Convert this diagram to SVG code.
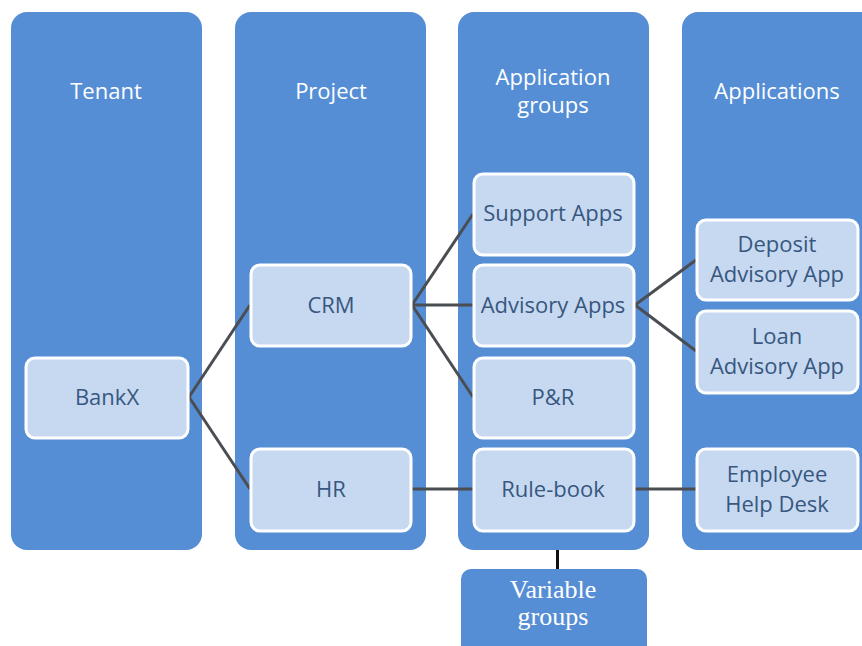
<svg xmlns="http://www.w3.org/2000/svg" width="862" height="646" viewBox="0 0 862 646">
<style>
.col{fill:#558ed5;}
.node{fill:#c6d9f1;stroke:#ffffff;stroke-width:3;}
.hdr{font-family:"Open Sans","Liberation Sans",sans-serif;font-size:22px;fill:#ffffff;text-anchor:middle;}
.lbl{font-family:"Open Sans","Liberation Sans",sans-serif;font-size:22px;fill:#38577f;text-anchor:middle;}
.ser{font-family:"Liberation Serif",serif;font-size:26px;fill:#ffffff;text-anchor:middle;}
.conn{stroke:#4a4d52;stroke-width:3;fill:none;}
</style>
<rect width="862" height="646" fill="#ffffff"/>
<g id="col-tenant"><rect class="col" x="11" y="12" width="191" height="538" rx="16"/><text class="hdr" x="106" y="99">Tenant</text></g>
<g id="col-project"><rect class="col" x="235" y="12" width="191" height="538" rx="16"/><text class="hdr" x="331" y="99">Project</text></g>
<g id="col-appgroups"><rect class="col" x="458" y="12" width="191" height="538" rx="16"/><text class="hdr" x="553" y="85">Application</text><text class="hdr" x="553" y="113">groups</text></g>
<g id="col-apps"><rect class="col" x="682" y="12" width="196" height="538" rx="16"/><text class="hdr" x="777" y="99">Applications</text></g>
<g id="connectors">
<line class="conn" x1="189" y1="397" x2="250" y2="305"/>
<line class="conn" x1="189" y1="397" x2="250" y2="489"/>
<line class="conn" x1="412" y1="305" x2="473" y2="214"/>
<line class="conn" x1="412" y1="305" x2="473" y2="305"/>
<line class="conn" x1="412" y1="305" x2="473" y2="397"/>
<line class="conn" x1="635" y1="305" x2="696" y2="260"/>
<line class="conn" x1="635" y1="305" x2="696" y2="351"/>
<line class="conn" x1="412" y1="489" x2="473" y2="489"/>
<line class="conn" x1="635" y1="489" x2="696" y2="489"/>
<line x1="557.5" y1="550" x2="557.5" y2="569" stroke="#111111" stroke-width="3"/>
</g>
<g id="bankx"><rect class="node" x="26" y="358" width="162" height="80" rx="9"/><text class="lbl" x="107" y="405">BankX</text></g>
<g id="crm"><rect class="node" x="251" y="265" width="160" height="81" rx="9"/><text class="lbl" x="331" y="313">CRM</text></g>
<g id="hr"><rect class="node" x="251" y="449" width="160" height="82" rx="9"/><text class="lbl" x="331" y="497">HR</text></g>
<g id="support"><rect class="node" x="474" y="174" width="160" height="81" rx="9"/><text class="lbl" x="553" y="221">Support Apps</text></g>
<g id="advisory"><rect class="node" x="474" y="265" width="160" height="81" rx="9"/><text class="lbl" x="553" y="313">Advisory Apps</text></g>
<g id="pr"><rect class="node" x="474" y="358" width="160" height="80" rx="9"/><text class="lbl" x="553" y="405">P&amp;R</text></g>
<g id="rulebook"><rect class="node" x="474" y="449" width="160" height="82" rx="9"/><text class="lbl" x="553" y="497">Rule-book</text></g>
<g id="deposit"><rect class="node" x="697" y="220" width="161" height="80" rx="9"/><text class="lbl" x="777" y="252">Deposit</text><text class="lbl" x="777" y="282">Advisory App</text></g>
<g id="loan"><rect class="node" x="697" y="311" width="161" height="82" rx="9"/><text class="lbl" x="777" y="344">Loan</text><text class="lbl" x="777" y="374">Advisory App</text></g>
<g id="helpdesk"><rect class="node" x="697" y="449" width="161" height="82" rx="9"/><text class="lbl" x="777" y="482">Employee</text><text class="lbl" x="777" y="512">Help Desk</text></g>
<g id="vargroups"><rect class="col" x="461" y="569" width="186" height="90" rx="10"/><text class="ser" x="553" y="598">Variable</text><text class="ser" x="553" y="625">groups</text></g>
</svg>
